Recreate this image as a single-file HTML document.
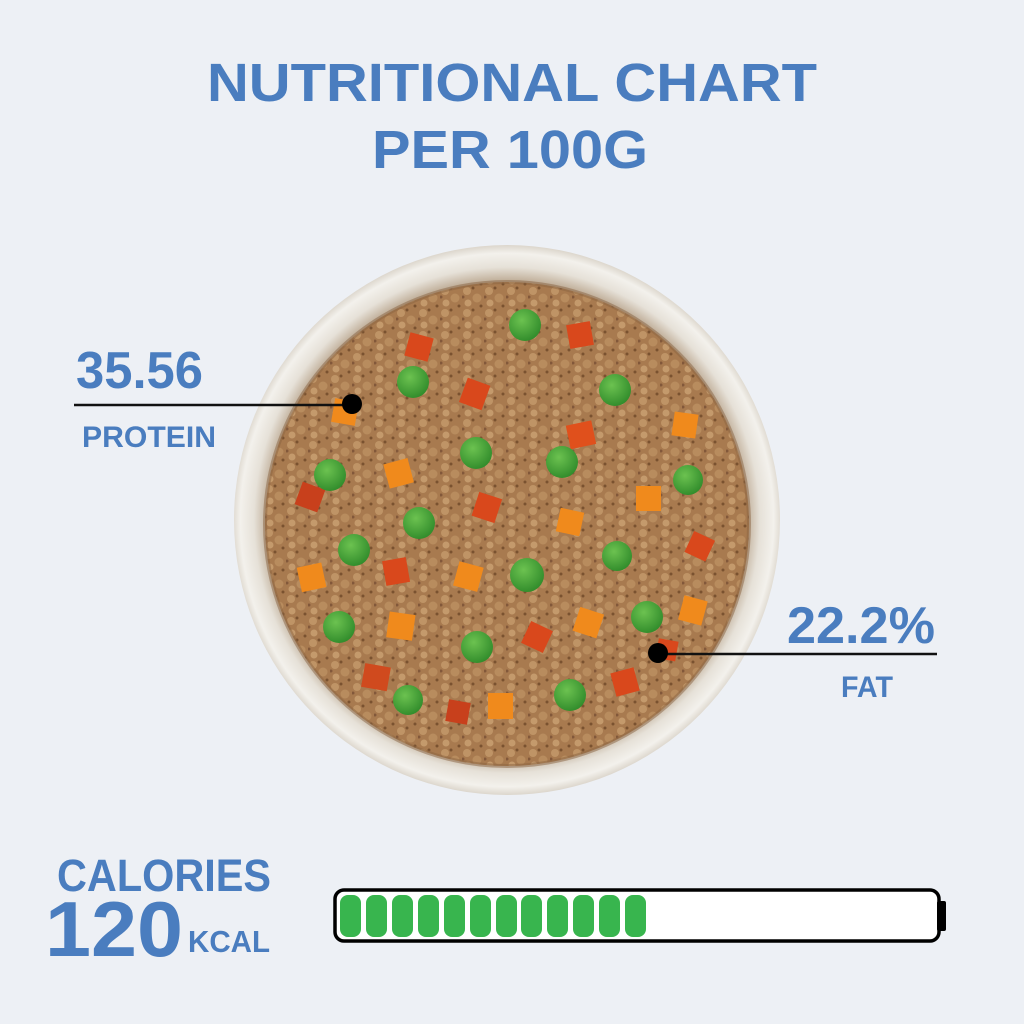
<!DOCTYPE html>
<html><head><meta charset="utf-8"><style>
html,body{margin:0;padding:0;background:#edf0f5;}
svg{display:block}
text{font-family:"Liberation Sans",sans-serif;font-weight:bold;fill:#4a7dbf;}
</style></head><body>
<svg width="1024" height="1024" viewBox="0 0 1024 1024" xmlns="http://www.w3.org/2000/svg">
<defs>
<radialGradient id="bowl" cx="507" cy="520" r="275" gradientUnits="userSpaceOnUse">
<stop offset="0.86" stop-color="#b8a48c"/>
<stop offset="0.92" stop-color="#e6e1d8"/>
<stop offset="0.97" stop-color="#f3f1ec"/>
<stop offset="1" stop-color="#dcd6cc"/>
</radialGradient>
<pattern id="tex" width="22" height="22" patternUnits="userSpaceOnUse">
<rect width="22" height="22" fill="#a87a4f"/>
<circle cx="5" cy="5" r="4" fill="#bf9466"/>
<circle cx="15" cy="12" r="4.5" fill="#b88c5e"/>
<circle cx="6" cy="17" r="3.5" fill="#c49a6c"/>
<circle cx="11" cy="2" r="1.5" fill="#7a5230"/>
<circle cx="19" cy="20" r="1.5" fill="#7a5230"/>
<circle cx="1" cy="11" r="1.5" fill="#82583a"/>
</pattern>
<radialGradient id="pea" cx="0.4" cy="0.35" r="0.7">
<stop offset="0" stop-color="#6cc250"/><stop offset="1" stop-color="#2f8a2a"/>
</radialGradient>
</defs>
<rect width="1024" height="1024" fill="#edf0f5"/>
<text x="207" y="101" font-size="54" textLength="610" lengthAdjust="spacingAndGlyphs">NUTRITIONAL CHART</text>
<text x="372" y="168" font-size="54" textLength="276" lengthAdjust="spacingAndGlyphs">PER 100G</text>

<ellipse cx="507" cy="520" rx="273" ry="275" fill="url(#bowl)"/>
<circle cx="507" cy="524" r="242" fill="url(#tex)"/>
<circle cx="507" cy="524" r="242" fill="none" stroke="#8a6441" stroke-width="4" opacity="0.5"/>
<g fill="#f08a1c">
<rect x="407" y="335" width="24" height="24" fill="#d9481c" transform="rotate(15 419 347)"/>
<rect x="568" y="323" width="24" height="24" fill="#d9481c" transform="rotate(-10 580 335)"/>
<rect x="463" y="381" width="24" height="26" fill="#d9481c" transform="rotate(20 475 393)"/>
<rect x="333" y="400" width="24" height="24" transform="rotate(10 345 412)"/>
<rect x="568" y="423" width="26" height="24" fill="#e0501c" transform="rotate(-12 580 435)"/>
<rect x="673" y="413" width="24" height="24" transform="rotate(8 685 425)"/>
<rect x="386" y="461" width="25" height="25" transform="rotate(-15 398 473)"/>
<rect x="475" y="495" width="24" height="25" fill="#d9481c" transform="rotate(18 487 507)"/>
<rect x="298" y="485" width="24" height="24" fill="#c8401c" transform="rotate(20 310 497)"/>
<rect x="636" y="486" width="25" height="25"/>
<rect x="558" y="510" width="24" height="24" transform="rotate(12 570 522)"/>
<rect x="688" y="535" width="23" height="23" fill="#d9481c" transform="rotate(25 700 547)"/>
<rect x="384" y="559" width="24" height="25" fill="#d9481c" transform="rotate(-10 396 571)"/>
<rect x="456" y="564" width="25" height="25" transform="rotate(15 468 576)"/>
<rect x="299" y="565" width="25" height="25" transform="rotate(-12 311 577)"/>
<rect x="388" y="613" width="26" height="26" transform="rotate(8 400 625)"/>
<rect x="576" y="610" width="25" height="25" transform="rotate(18 588 622)"/>
<rect x="525" y="625" width="24" height="24" fill="#d9481c" transform="rotate(25 537 637)"/>
<rect x="681" y="598" width="24" height="25" transform="rotate(15 693 610)"/>
<rect x="363" y="665" width="26" height="24" fill="#d04a1e" transform="rotate(10 375 677)"/>
<rect x="613" y="670" width="24" height="24" fill="#d9481c" transform="rotate(-15 625 682)"/>
<rect x="488" y="693" width="25" height="26"/>
<rect x="447" y="701" width="22" height="22" fill="#c8401c" transform="rotate(10 458 712)"/>
<rect x="657" y="640" width="20" height="20" fill="#d9481c" transform="rotate(10 668 650)"/>
</g>
<g fill="url(#pea)">
<circle cx="525" cy="325" r="16"/><circle cx="413" cy="382" r="16"/><circle cx="615" cy="390" r="16"/>
<circle cx="476" cy="453" r="16"/><circle cx="330" cy="475" r="16"/><circle cx="562" cy="462" r="16"/>
<circle cx="688" cy="480" r="15"/><circle cx="419" cy="523" r="16"/><circle cx="354" cy="550" r="16"/>
<circle cx="617" cy="556" r="15"/><circle cx="527" cy="575" r="17"/><circle cx="339" cy="627" r="16"/>
<circle cx="647" cy="617" r="16"/><circle cx="477" cy="647" r="16"/><circle cx="570" cy="695" r="16"/>
<circle cx="408" cy="700" r="15"/>
</g>

<text x="76" y="388" font-size="52" textLength="127" lengthAdjust="spacingAndGlyphs">35.56</text>
<line x1="74" y1="405" x2="352" y2="405" stroke="#111" stroke-width="2.5"/>
<circle cx="352" cy="404" r="10" fill="#000"/>
<text x="82" y="447" font-size="30" textLength="134" lengthAdjust="spacingAndGlyphs">PROTEIN</text>

<text x="787" y="643" font-size="52" textLength="148" lengthAdjust="spacingAndGlyphs">22.2%</text>
<line x1="658" y1="654" x2="937" y2="654" stroke="#111" stroke-width="2.5"/>
<circle cx="658" cy="653" r="10" fill="#000"/>
<text x="841" y="697" font-size="30" textLength="52" lengthAdjust="spacingAndGlyphs">FAT</text>

<text x="57" y="891" font-size="45" textLength="214" lengthAdjust="spacingAndGlyphs">CALORIES</text>
<text x="45" y="956" font-size="78" textLength="138" lengthAdjust="spacingAndGlyphs">120</text>
<text x="188" y="952" font-size="31" textLength="82" lengthAdjust="spacingAndGlyphs">KCAL</text>

<rect x="335" y="890" width="604" height="51" rx="9" fill="#fff" stroke="#000" stroke-width="3.5"/>
<rect x="937" y="901" width="9" height="30" rx="2" fill="#000"/>
<g fill="#38b54e">
<rect x="340" y="895" width="21" height="42" rx="8"/>
<rect x="366" y="895" width="21" height="42" rx="8"/>
<rect x="392" y="895" width="21" height="42" rx="8"/>
<rect x="418" y="895" width="21" height="42" rx="8"/>
<rect x="444" y="895" width="21" height="42" rx="8"/>
<rect x="470" y="895" width="21" height="42" rx="8"/>
<rect x="496" y="895" width="21" height="42" rx="8"/>
<rect x="521" y="895" width="21" height="42" rx="8"/>
<rect x="547" y="895" width="21" height="42" rx="8"/>
<rect x="573" y="895" width="21" height="42" rx="8"/>
<rect x="599" y="895" width="21" height="42" rx="8"/>
<rect x="625" y="895" width="21" height="42" rx="8"/>
</g>
</svg>
</body></html>
